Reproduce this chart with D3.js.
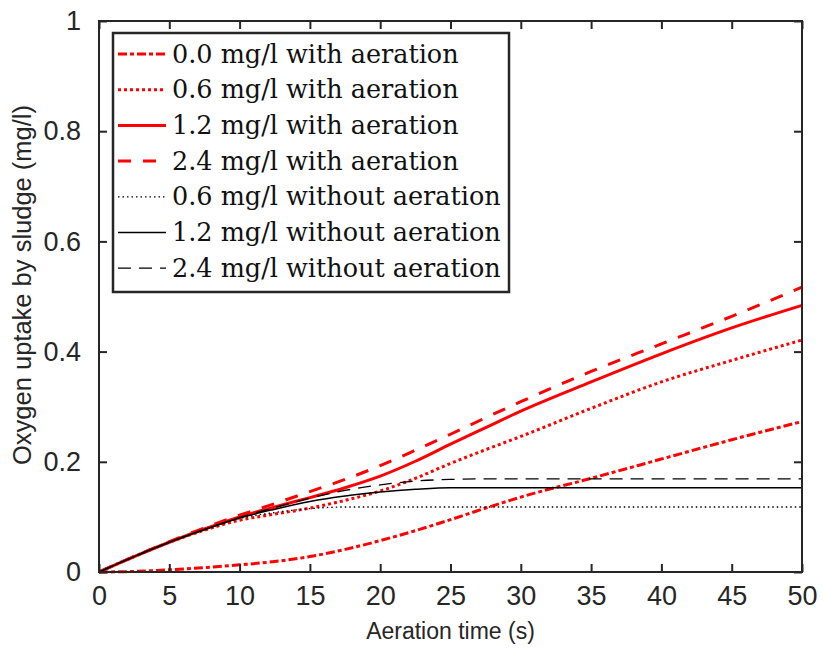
<!DOCTYPE html>
<html>
<head>
<meta charset="utf-8">
<script src="https://cdn.jsdelivr.net/npm/d3@7"></script>
<style>
  html, body { margin: 0; padding: 0; background: #fff; }
  svg { display: block; }
</style>
</head>
<body>
<svg id="chart" width="823" height="652"></svg>
<script>
// ---------- data ----------
const times = [0, 2.5, 5, 7.5, 10, 12.5, 15, 17.5, 20, 22.5, 25, 27.5, 30, 35, 40, 45, 50];

const with00  = [0, 0.001, 0.004, 0.008, 0.013, 0.019, 0.028, 0.041, 0.057, 0.075, 0.095, 0.116, 0.136, 0.170, 0.205, 0.240, 0.273];
const with06  = [0, 0.028, 0.054, 0.076, 0.094, 0.105, 0.116, 0.130, 0.147, 0.170, 0.197, 0.222, 0.246, 0.297, 0.345, 0.384, 0.421];
const with12  = [0, 0.028, 0.054, 0.078, 0.100, 0.118, 0.135, 0.153, 0.174, 0.201, 0.232, 0.262, 0.292, 0.345, 0.396, 0.443, 0.484];
const with24  = [0, 0.028, 0.055, 0.080, 0.103, 0.124, 0.146, 0.168, 0.193, 0.221, 0.250, 0.280, 0.309, 0.364, 0.414, 0.464, 0.517];
const wo06    = [0, 0.028, 0.054, 0.077, 0.097, 0.108, 0.115, 0.118, 0.118, 0.118, 0.118, 0.118, 0.118, 0.118, 0.118, 0.118, 0.118];
const wo12    = [0, 0.028, 0.054, 0.077, 0.098, 0.114, 0.128, 0.138, 0.145, 0.150, 0.153, 0.153, 0.153, 0.153, 0.153, 0.153, 0.153];
const wo24    = [0, 0.028, 0.054, 0.077, 0.099, 0.117, 0.134, 0.148, 0.158, 0.165, 0.168, 0.169, 0.169, 0.169, 0.169, 0.169, 0.169];

const seriesNames = [
  "0.0 mg/l with aeration",
  "0.6 mg/l with aeration",
  "1.2 mg/l with aeration",
  "2.4 mg/l with aeration",
  "0.6 mg/l without aeration",
  "1.2 mg/l without aeration",
  "2.4 mg/l without aeration"
];
const seriesValues = [with00, with06, with12, with24, wo06, wo12, wo24];
const seriesColors = ["#ff0000", "#ff0000", "#ff0000", "#ff0000", "#000000", "#000000", "#000000"];
const seriesWidths = [3, 3, 3, 3, 1.3, 1.5, 1.3];
const seriesDash = ["9,3,4,3", "3,3", null, "13,12", "1.5,3", null, "13,8"];

const xTicks = [0, 5, 10, 15, 20, 25, 30, 35, 40, 45, 50];
const yTicks = [0, 0.2, 0.4, 0.6, 0.8, 1];
const yTickLabels = ["0", "0.2", "0.4", "0.6", "0.8", "1"];
const xTitle = "Aeration time (s)";
const yTitle = "Oxygen uptake by sludge (mg/l)";

// ---------- layout ----------
const svg = d3.select("#chart");
const L = 99, R = 802, T = 21, B = 572;
const x = d3.scaleLinear().domain([0, 50]).range([L, R]);
const y = d3.scaleLinear().domain([0, 1]).range([B, T]);

const axisColor = "#262626";
const tickFont = "'Liberation Sans', Arial, Helvetica, sans-serif";

// ---------- lines ----------
const line = d3.line()
  .x((d, i) => x(times[i]))
  .y(d => y(d))
  .curve(d3.curveMonotoneX);

const gLines = svg.append("g");
seriesValues.forEach((vals, k) => {
  gLines.append("path")
    .attr("d", line(vals))
    .attr("fill", "none")
    .attr("stroke", seriesColors[k])
    .attr("stroke-width", seriesWidths[k])
    .attr("stroke-dasharray", seriesDash[k])
    .attr("stroke-linejoin", "round");
});

// ---------- axes (inward ticks on all sides) ----------
const tickLen = 8;
const gx = svg.append("g").attr("transform", `translate(0,${B})`)
  .call(d3.axisBottom(x).tickValues(xTicks).tickSize(-tickLen).tickPadding(14).tickFormat(d3.format("d")));
const gxt = svg.append("g").attr("transform", `translate(0,${T})`)
  .call(d3.axisTop(x).tickValues(xTicks).tickSize(-tickLen).tickFormat(""));
const gy = svg.append("g").attr("transform", `translate(${L},0)`)
  .call(d3.axisLeft(y).tickValues(yTicks).tickSize(-tickLen).tickPadding(18).tickFormat((d, i) => yTickLabels[i]));
const gyr = svg.append("g").attr("transform", `translate(${R},0)`)
  .call(d3.axisRight(y).tickValues(yTicks).tickSize(-tickLen).tickFormat(""));

[gx, gxt, gy, gyr].forEach(g => {
  g.select(".domain").remove();
  g.selectAll(".tick line").attr("stroke", axisColor).attr("stroke-width", 2);
  g.selectAll(".tick text").attr("fill", axisColor).attr("font-family", tickFont).attr("font-size", 27);
});
gx.selectAll(".tick text").attr("dy", "0.71em");

// frame
svg.append("rect")
  .attr("x", L).attr("y", T).attr("width", R - L).attr("height", B - T)
  .attr("fill", "none").attr("stroke", axisColor).attr("stroke-width", 2);

// axis titles
svg.append("text")
  .attr("x", (L + R) / 2).attr("y", 639)
  .attr("text-anchor", "middle")
  .attr("font-family", tickFont).attr("font-size", 23).attr("fill", axisColor)
  .text(xTitle);

svg.append("text")
  .attr("transform", `translate(31,285) rotate(-90)`)
  .attr("text-anchor", "middle")
  .attr("font-family", tickFont).attr("font-size", 25.5).attr("fill", axisColor)
  .text(yTitle);

// ---------- legend ----------
const lg = svg.append("g");
const lgX = 113, lgY = 33, lgW = 396, lgH = 259;
lg.append("rect")
  .attr("x", lgX).attr("y", lgY).attr("width", lgW).attr("height", lgH)
  .attr("fill", "#fff").attr("stroke", axisColor).attr("stroke-width", 2.5);

const rowY0 = 54, rowStep = 35.7;
seriesNames.forEach((name, k) => {
  const yy = rowY0 + k * rowStep;
  lg.append("line")
    .attr("x1", 118).attr("x2", 166).attr("y1", yy).attr("y2", yy)
    .attr("stroke", seriesColors[k])
    .attr("stroke-width", seriesWidths[k])
    .attr("stroke-dasharray", seriesDash[k]);
  lg.append("text")
    .attr("x", 172).attr("y", yy + 8.5)
    .attr("font-family", "'DejaVu Serif', 'Liberation Serif', serif")
    .attr("font-size", 25.5).attr("fill", "#111")
    .text(name);
});
</script>
</body>
</html>
